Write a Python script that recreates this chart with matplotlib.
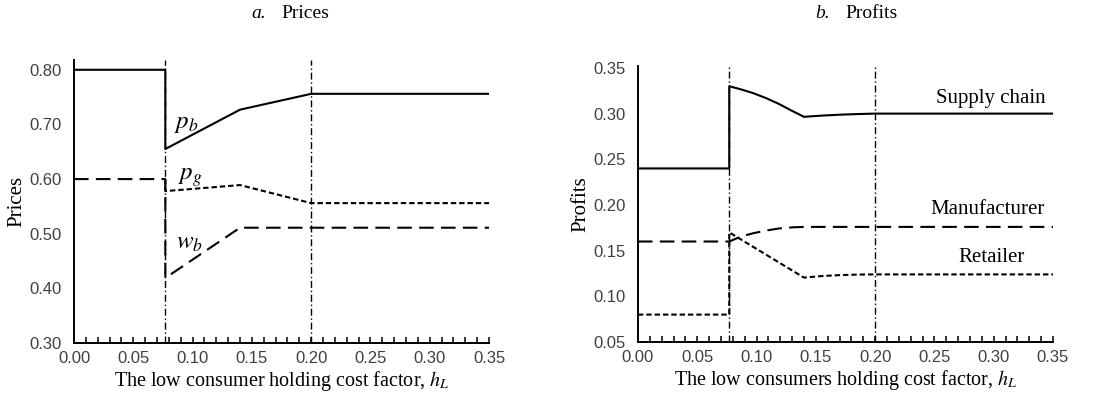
import matplotlib
matplotlib.use("Agg")
import matplotlib.pyplot as plt
from matplotlib.ticker import MultipleLocator, FormatStrFormatter

plt.rcParams['mathtext.fontset'] = 'stix'

# ---------------- data ----------------
thresholds = [0.077, 0.2]

# Prices
pb_x = [0.0, 0.077, 0.077, 0.14, 0.2, 0.35]
pb_y = [0.80, 0.80, 0.655, 0.727, 0.756, 0.756]
wb_x = [0.0, 0.077, 0.077, 0.14, 0.2, 0.35]
wb_y = [0.60, 0.60, 0.419, 0.511, 0.511, 0.511]
pg_x = [0.077, 0.077, 0.14, 0.2, 0.35]
pg_y = [0.60, 0.578, 0.589, 0.556, 0.556]

# Profits
sc_x = [0.0, 0.077, 0.077, 0.087, 0.097, 0.108, 0.119, 0.13, 0.14, 0.155, 0.17, 0.185, 0.2, 0.35]
sc_y = [0.24, 0.24, 0.330, 0.3265, 0.3225, 0.317, 0.3105, 0.303, 0.2965, 0.2978, 0.2988, 0.2995, 0.300, 0.300]
man_x = [0.0, 0.077, 0.077, 0.087, 0.097, 0.108, 0.119, 0.13, 0.14, 0.2, 0.35]
man_y = [0.16, 0.16, 0.160, 0.1655, 0.169, 0.172, 0.1743, 0.1755, 0.176, 0.176, 0.176]
ret_x = [0.0, 0.077, 0.077, 0.14, 0.155, 0.17, 0.185, 0.2, 0.35]
ret_y = [0.08, 0.08, 0.170, 0.1205, 0.1222, 0.1232, 0.1238, 0.124, 0.124]

serif = 'Liberation Serif'
sans = 'Liberation Sans'

fig = plt.figure(figsize=(10.98, 3.97), dpi=100)
ax1 = fig.add_axes([0.0674, 0.136, 0.378, 0.713])
ax2 = fig.add_axes([0.581, 0.1385, 0.378, 0.695])

lw = 1.5
long_dash = (0, (7, 3.5))
short_dash = (0, (2.6, 1.4))
dashdot = (0, (5, 2, 1, 2))

def style(ax, ylim, ymajor, ylabel, xlabel):
    ax.set_xlim(0, 0.35)
    ax.set_ylim(*ylim)
    for s in ['top', 'right']:
        ax.spines[s].set_visible(False)
    for s in ['left', 'bottom']:
        ax.spines[s].set_linewidth(1.4)
    ax.xaxis.set_major_locator(MultipleLocator(0.05))
    ax.xaxis.set_minor_locator(MultipleLocator(0.01))
    ax.xaxis.set_major_formatter(FormatStrFormatter('%.2f'))
    ax.yaxis.set_major_locator(MultipleLocator(ymajor))
    ax.yaxis.set_major_formatter(FormatStrFormatter('%.2f'))
    ax.tick_params(axis='x', which='both', direction='in', length=4, width=1.1, pad=6)
    ax.tick_params(axis='y', which='both', length=0, pad=9)
    for lab in ax.get_xticklabels() + ax.get_yticklabels():
        lab.set_fontfamily(sans)
        lab.set_fontsize(12)
        lab.set_color('#404040')
    ax.set_ylabel(ylabel, fontfamily=serif, fontsize=15, labelpad=2)
    ax.set_xlabel(xlabel, fontfamily=serif, fontsize=14.5, labelpad=2)
    for t in thresholds:
        ax.axvline(t, color='black', lw=1.0, linestyle=dashdot)

style(ax1, (0.30, 0.818), 0.10, 'Prices',
      r'The low consumer holding cost factor, $h_L$')
style(ax2, (0.05, 0.352), 0.05, 'Profits',
      r'The low consumers holding cost factor, $h_L$')

# Prices
ax1.plot(pb_x, pb_y, color='black', lw=lw, linestyle='-')
ax1.plot(wb_x, wb_y, color='black', lw=lw, linestyle=long_dash)
ax1.plot(pg_x, pg_y, color='black', lw=lw, linestyle=short_dash)
ax1.text(0.0945, 0.703, r'$p_b$', fontsize=18, ha='center', va='center')
ax1.text(0.0985, 0.603, r'$p_g$', fontsize=18, ha='center', va='center')
ax1.text(0.097, 0.484, r'$w_b$', fontsize=18, ha='center', va='center')

# Profits
ax2.plot(sc_x, sc_y, color='black', lw=lw, linestyle='-')
ax2.plot(man_x, man_y, color='black', lw=lw, linestyle=long_dash)
ax2.plot(ret_x, ret_y, color='black', lw=lw, linestyle=short_dash)
ax2.text(0.2975, 0.316, 'Supply chain', fontfamily=serif, fontsize=15, ha='center', va='center')
ax2.text(0.2947, 0.1945, 'Manufacturer', fontfamily=serif, fontsize=15, ha='center', va='center')
ax2.text(0.2986, 0.1425, 'Retailer', fontfamily=serif, fontsize=15, ha='center', va='center')

# Titles
for ax, letter, word in [(ax1, 'a.', 'Prices'), (ax2, 'b.', 'Profits')]:
    pos = ax.get_position()
    cx = pos.x0 + pos.width / 2
    fig.text(cx - 0.014, 1 - 13 / 397, letter, fontfamily=serif, fontstyle='italic',
             fontsize=14, ha='right', va='center')
    fig.text(cx + 0.000, 1 - 13 / 397, word, fontfamily=serif,
             fontsize=14, ha='left', va='center')

fig.savefig('out.png', dpi=100)
